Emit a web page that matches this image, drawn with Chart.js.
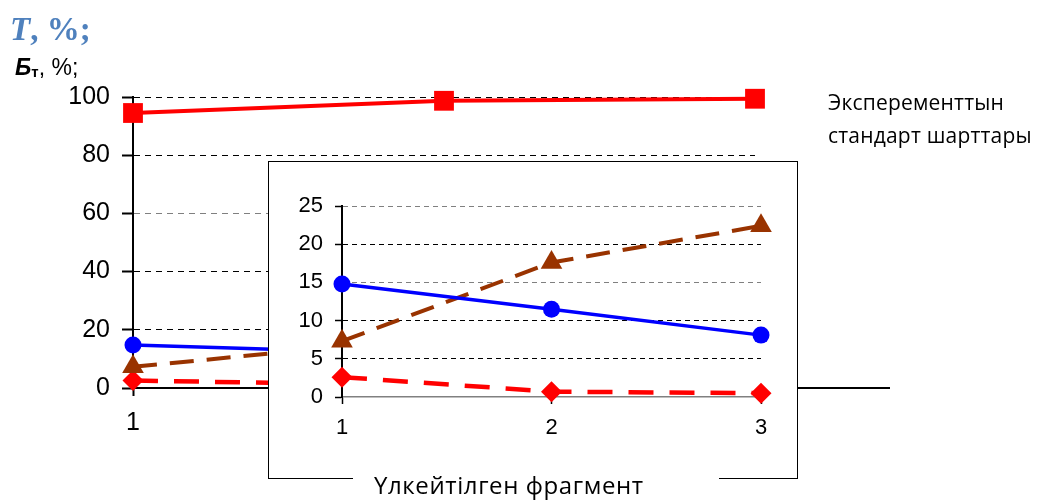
<!DOCTYPE html>
<html>
<head>
<meta charset="utf-8">
<script src="https://cdn.jsdelivr.net/npm/chart.js@4"></script>
<style>
  body { margin: 0; background: #fff; }
  #wrap { position: relative; width: 1047px; height: 500px; overflow: hidden; }
  #main { position: absolute; left: 0; top: 0; }
  #inset { position: absolute; left: 268px; top: 161px; width: 530px; height: 318px; box-sizing: border-box; border: 1px solid #000; background: #fff; }
  #insetChart { position: absolute; left: 0; top: 0; }
  #gap { position: absolute; left: 353px; top: 472px; width: 366px; height: 12px; background: #fff; }
  .txt { position: absolute; white-space: nowrap; }
  #ttl { left: 10px; top: 13px; font: bold 33px "Liberation Serif", serif; color: #4F81BD; line-height: 1; }
  #ylab { left: 15px; top: 56px; font: 23px "Liberation Sans", Arial, sans-serif; line-height: 1; }
  #ylab sub { font-size: 15px; vertical-align: -2px; }
  #legend { left: 828px; top: 86px; font: 21px "Open Sans", sans-serif; line-height: 33px; letter-spacing: 0.2px; }
  #frag { left: 374px; top: 471px; font: 24px "Open Sans", sans-serif; line-height: 1.2; letter-spacing: 0.6px; }
</style>
</head>
<body>
<div id="wrap">
  <canvas id="main" width="1047" height="500"></canvas>
  <div class="txt" id="ttl"><i>T</i>, %;</div>
  <div class="txt" id="ylab"><b><i>Б</i><sub>т</sub></b>, %;</div>
  <div class="txt" id="legend">Эксперементтын<br>стандарт шарттары</div>
  <div id="inset"><canvas id="insetChart" width="528" height="316"></canvas></div>
  <div id="gap"></div>
  <div class="txt" id="frag">Үлкейтілген фрагмент</div>
</div>
<script>
// values
const categories = ['1', '2', '3'];
const standardCond = [94.5, 98.7, 99.4];   // red squares
const blueSeries = [14.8, 11.5, 8.1];       // blue circles
const brownSeries = [7.3, 17.6, 22.4];      // brown triangles, dashed
const redDashed = [2.6, 0.7, 0.5];          // red diamonds, dashed
const mainTicks = [0, 20, 40, 60, 80, 100];
const insetTicks = [0, 5, 10, 15, 20, 25];

const axisFont = { family: '"Liberation Sans", Arial, sans-serif' };

function seriesSet(withStandard) {
  let sets = [];
  if (withStandard) {
    sets.push({
      data: standardCond, borderColor: '#ff0000', backgroundColor: '#ff0000',
      borderWidth: 4, pointStyle: 'rect', pointRadius: 14, pointBorderWidth: 0, clip: false
    });
  }
  sets.push({
    data: blueSeries, borderColor: '#0000ff', backgroundColor: '#0000ff',
    borderWidth: 3.5, pointStyle: 'circle', pointRadius: 8.5, pointBorderWidth: 0, clip: false
  });
  sets.push({
    data: brownSeries, borderColor: '#993300', backgroundColor: '#993300',
    borderWidth: 4, borderDash: [24, 13], pointStyle: 'triangle', pointRadius: 12.5, pointBorderWidth: 0, clip: false
  });
  sets.push({
    data: redDashed, borderColor: '#ff0000', backgroundColor: '#ff0000',
    borderWidth: 4.5, borderDash: [25, 16], pointStyle: 'rectRot', pointRadius: 10.5, pointBorderWidth: 0, clip: false
  });
  return sets;
}

// main x axis runs on past the last category
const axisTail = {
  id: 'axisTail',
  afterDraw(chart) {
    const a = chart.chartArea, ctx = chart.ctx;
    ctx.save();
    ctx.strokeStyle = '#000';
    ctx.lineWidth = 2;
    ctx.beginPath();
    ctx.moveTo(a.right, a.bottom);
    ctx.lineTo(a.right + 135, a.bottom);
    ctx.stroke();
    ctx.restore();
  }
};

new Chart(document.getElementById('main'), {
  type: 'line',
  data: { labels: categories, datasets: seriesSet(true) },
  options: {
    responsive: false,
    animation: false,
    layout: { padding: { top: 97, right: 292, left: 0, bottom: 0 } },
    plugins: { legend: { display: false }, tooltip: { enabled: false } },
    scales: {
      x: {
        offset: false,
        grid: { display: true, drawOnChartArea: false, tickLength: 8, tickColor: '#000', tickWidth: 2 },
        border: { color: '#000', width: 2 },
        ticks: { color: '#000', font: { ...axisFont, size: 25 }, padding: 12, maxRotation: 0 },
        afterFit(s) { s.height = 112; }
      },
      y: {
        min: 0, max: 100,
        afterBuildTicks(s) { s.ticks = mainTicks.map(v => ({ value: v })); },
        grid: {
          color: c => c.tick.value === 0 ? 'rgba(0,0,0,0)' : (c.tick.value === 60 ? '#808080' : '#000'),
          lineWidth: 1, tickLength: 11, tickColor: '#000', tickWidth: 2
        },
        border: { color: '#000', width: 2, dash: [6, 5] },
        ticks: { color: '#000', font: { ...axisFont, size: 25 }, padding: 12 },
        afterFit(s) { s.width = 133; }
      }
    }
  },
  plugins: [axisTail]
});

new Chart(document.getElementById('insetChart'), {
  type: 'line',
  data: { labels: categories, datasets: seriesSet(false) },
  options: {
    responsive: false,
    animation: false,
    layout: { padding: { top: 44, right: 36, left: 0, bottom: 0 } },
    plugins: { legend: { display: false }, tooltip: { enabled: false } },
    scales: {
      x: {
        offset: false,
        grid: { display: true, drawOnChartArea: false, tickLength: 7, tickColor: '#000', tickWidth: 1.5 },
        border: { color: '#808080', width: 1.5 },
        ticks: { color: '#000', font: { ...axisFont, size: 22 }, padding: 11, maxRotation: 0 },
        afterFit(s) { s.height = 81; }
      },
      y: {
        min: 0, max: 25,
        afterBuildTicks(s) { s.ticks = insetTicks.map(v => ({ value: v })); },
        grid: {
          color: c => c.tick.value === 0 ? 'rgba(0,0,0,0)' : ((c.tick.value === 25 || c.tick.value === 15) ? '#808080' : '#000'),
          lineWidth: 1, tickLength: 7, tickColor: '#000', tickWidth: 1.5
        },
        border: { color: '#000', width: 2, dash: [5, 4] },
        ticks: { color: '#000', font: { ...axisFont, size: 22 }, padding: 12 },
        afterFit(s) { s.width = 73; }
      }
    }
  }
});
</script>
</body>
</html>
